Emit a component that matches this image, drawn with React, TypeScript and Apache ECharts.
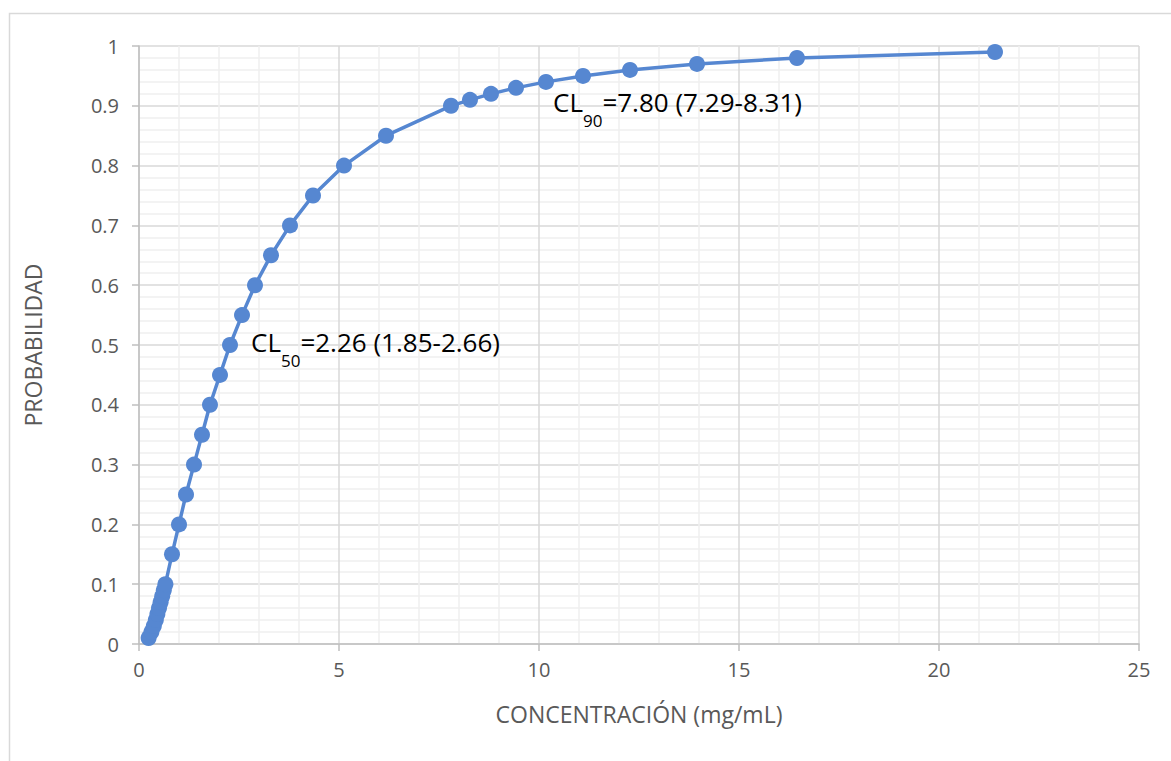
import React, { useEffect, useRef } from "react";
import * as echarts from "echarts";

const concentration = [
  0.24, 0.31, 0.37, 0.42, 0.46, 0.5, 0.54, 0.58, 0.62, 0.66,
  0.825, 1.0, 1.175, 1.375, 1.575, 1.775, 2.025, 2.275, 2.575, 2.9,
  3.3, 3.775, 4.35, 5.125, 6.175, 7.8,
  8.275, 8.8, 9.425, 10.175, 11.1, 12.275, 13.95, 16.45, 21.4,
];
const probability = [
  0.01, 0.02, 0.03, 0.04, 0.05, 0.06, 0.07, 0.08, 0.09, 0.1,
  0.15, 0.2, 0.25, 0.3, 0.35, 0.4, 0.45, 0.5, 0.55, 0.6,
  0.65, 0.7, 0.75, 0.8, 0.85, 0.9,
  0.91, 0.92, 0.93, 0.94, 0.95, 0.96, 0.97, 0.98, 0.99,
];
const xTitle = "CONCENTRACIÓN (mg/mL)";
const yTitle = "PROBABILIDAD";
const annotations = [
  { sub: "50", rest: "=2.26 (1.85-2.66)" },
  { sub: "90", rest: "=7.80 (7.29-8.31)" },
];

const FONT = "'Open Sans', 'Noto Sans', sans-serif";
const BLUE = "#5687D1";

export default function App() {
  const ref = useRef<HTMLDivElement>(null);
  useEffect(() => {
    if (!ref.current) return;
    const chart = echarts.init(ref.current, undefined, { renderer: "svg" });
    const data = concentration.map((x, i) => [x, probability[i]]);
    const rich = {
      a: { fontSize: 26, fontFamily: FONT, color: "#000", lineHeight: 32, verticalAlign: "top" },
      b: { fontSize: 17, fontFamily: FONT, color: "#000", lineHeight: 17, verticalAlign: "top", padding: [23, 0, 0, 0] },
    };
    const annoPos = [
      { left: 251, top: 329 },
      { left: 553, top: 89 },
    ];
    chart.setOption({
      animation: false,
      backgroundColor: "#fff",
      grid: { left: 139, right: 32, top: 46, bottom: 117, containLabel: false },
      xAxis: {
        type: "value",
        min: 0,
        max: 25,
        interval: 5,
        name: xTitle,
        nameLocation: "middle",
        nameGap: 58,
        nameTextStyle: { fontSize: 23, color: "#595959", fontFamily: FONT },
        axisLine: { show: true, onZero: false, lineStyle: { color: "#BFBFBF", width: 1.5 } },
        axisTick: { show: true, inside: false, length: 7, lineStyle: { color: "#BFBFBF", width: 1.5 } },
        axisLabel: { fontSize: 20, color: "#595959", fontFamily: FONT, margin: 15 },
        splitLine: { show: true, lineStyle: { color: "#D9D9D9", width: 1.5 } },
        minorTick: { show: false, splitNumber: 5 },
        minorSplitLine: { show: true, lineStyle: { color: "#EFEFEF", width: 1.5 } },
      },
      yAxis: {
        type: "value",
        min: 0,
        max: 1,
        interval: 0.1,
        name: yTitle,
        nameLocation: "middle",
        nameGap: 95,
        nameRotate: 90,
        nameTextStyle: { fontSize: 23, color: "#595959", fontFamily: FONT },
        axisLine: { show: true, lineStyle: { color: "#BFBFBF", width: 1.5 } },
        axisTick: { show: true, inside: false, length: 7, lineStyle: { color: "#BFBFBF", width: 1.5 } },
        axisLabel: {
          fontSize: 20,
          color: "#595959",
          fontFamily: FONT,
          margin: 20,
          formatter: (v: number) => String(Math.round(v * 10) / 10),
        },
        splitLine: { show: true, lineStyle: { color: "#D9D9D9", width: 1.5 } },
        minorTick: { show: false, splitNumber: 5 },
        minorSplitLine: { show: true, lineStyle: { color: "#EFEFEF", width: 1.5 } },
      },
      series: [
        {
          type: "line",
          data,
          symbol: "circle",
          symbolSize: 16,
          showSymbol: true,
          lineStyle: { color: BLUE, width: 3.5 },
          itemStyle: { color: BLUE },
          z: 5,
        },
      ],
      graphic: [
        {
          type: "rect",
          left: 7,
          top: 11,
          shape: { width: 1300, height: 900 },
          style: { fill: "none", stroke: "#D9D9D9", lineWidth: 1.5 },
          silent: true,
          z: -1,
        },
        ...annotations.map((a, i) => ({
          type: "text",
          left: annoPos[i].left,
          top: annoPos[i].top,
          z: 10,
          style: {
            text: `{a|CL}{b|${a.sub}}{a|${a.rest}}`,
            rich,
            fontFamily: FONT,
          },
        })),
      ],
    });
    return () => chart.dispose();
  }, []);
  return (
    <div
      ref={ref}
      style={{ position: "fixed", left: 0, top: 0, width: 1171, height: 761 }}
    />
  );
}
